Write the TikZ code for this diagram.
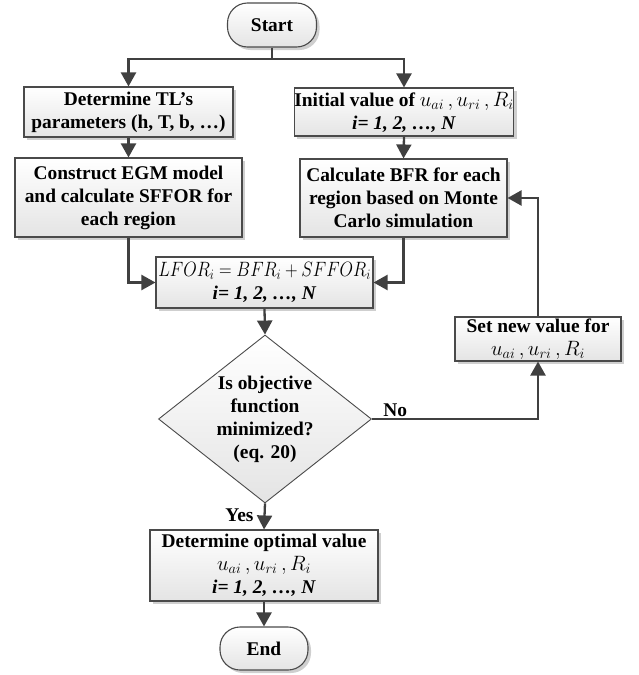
\documentclass[tikz,border=0pt]{standalone}
\usepackage{fontspec}
\setmainfont{Liberation Serif}
\usetikzlibrary{arrows.meta,shapes.geometric,shadows}
\definecolor{lncol}{HTML}{404040}
\definecolor{bdcol}{HTML}{4A4A4A}
\definecolor{shcol}{HTML}{CFCFCF}
\definecolor{btcol}{HTML}{E4E4E4}
\begin{document}
\begin{tikzpicture}[x=1pt,y=1pt,
  every node/.style={font=\fontsize{19.4}{23}\selectfont\bfseries},
  boxstyle/.style={draw=bdcol, line width=1.1pt, top color=white, bottom color=btcol,
     align=center, inner sep=0pt,
     drop shadow={shadow xshift=3pt, shadow yshift=-3pt, fill=shcol, opacity=1}},
  termstyle/.style={boxstyle, rounded corners=20pt},
  diastyle/.style={draw=bdcol, line width=0.9pt, diamond, top color=white, bottom color=btcol, inner sep=0pt},
  conn/.style={draw=lncol, line width=2.3pt},
  arr/.style={conn, -{Triangle[width=15pt,length=14pt]}},
  lbl/.style={inner sep=1pt}
]
\useasboundingbox (0,0) rectangle (638,-675);
\newcommand{\iN}{\textit{i= 1, 2, …, N}}
\newcommand{\uur}{$u_{ai}\,,u_{ri}\,,R_i$}

\node[termstyle, minimum width=89pt, minimum height=44pt] (start) at (272,-25) {Start};

\node[boxstyle, minimum width=209pt, minimum height=50pt] (b1L) at (128.5,-112)
  {Determine TL’s\\parameters (h, T, b, …)};
\node[boxstyle, minimum width=218pt, minimum height=48pt] (b1R) at (404,-112)
  {Initial value of \uur\\ \iN};

\node[boxstyle, minimum width=227pt, minimum height=79pt] (b2L) at (128.5,-197.5)
  {Construct EGM model\\and calculate SFFOR for\\each region};
\node[boxstyle, minimum width=207pt, minimum height=78pt] (b2R) at (403.5,-198)
  {Calculate BFR for each\\region based on Monte\\Carlo simulation};

\node[boxstyle, minimum width=217pt, minimum height=51pt] (lfor) at (264.5,-282.5)
  {\scalebox{0.84}[1]{$LFOR_i = BFR_i + SFFOR_i$}\\ \iN};

\node[diastyle, minimum width=213pt, minimum height=168pt] (dia) at (265,-419) {};
\node[align=center, inner sep=0pt] (diatext) at (dia.center)
  {Is objective\\function\\minimized?\\(eq. 20)};

\node[boxstyle, minimum width=166pt, minimum height=44pt] (setb) at (538,-339)
  {Set new value for\\ \uur};

\node[boxstyle, minimum width=228pt, minimum height=71pt] (opt) at (264,-565.5)
  {Determine optimal value\\ \uur\\ \iN};

\node[termstyle, minimum width=88pt, minimum height=43pt] (end) at (264,-648.5) {End};

\coordinate (split) at (272,-59);
\draw[conn] (start.south) -- (split);
\draw[arr] (split) -| (b1L.north);
\draw[arr] (split) -| (b1R.north);
\draw[arr] (b1L.south) -- (b2L.north);
\draw[arr] (b1R.south) -- (b2R.north);
\draw[arr] (b2L.south) |- (lfor.west);
\draw[arr] (b2R.south) |- (lfor.east);
\draw[arr] (lfor.south) -- (dia.north);
\draw[arr] (dia.east) -| node[pos=0.07, above, lbl] (nolbl) {No} (setb.south);
\draw[arr] (setb.north) |- (b2R.east);
\draw[arr] (dia.south) -- node[pos=0.45, left=9pt, lbl] (yeslbl) {Yes} (opt.north);
\draw[arr] (opt.south) -- (end.north);
\end{tikzpicture}
\end{document}
